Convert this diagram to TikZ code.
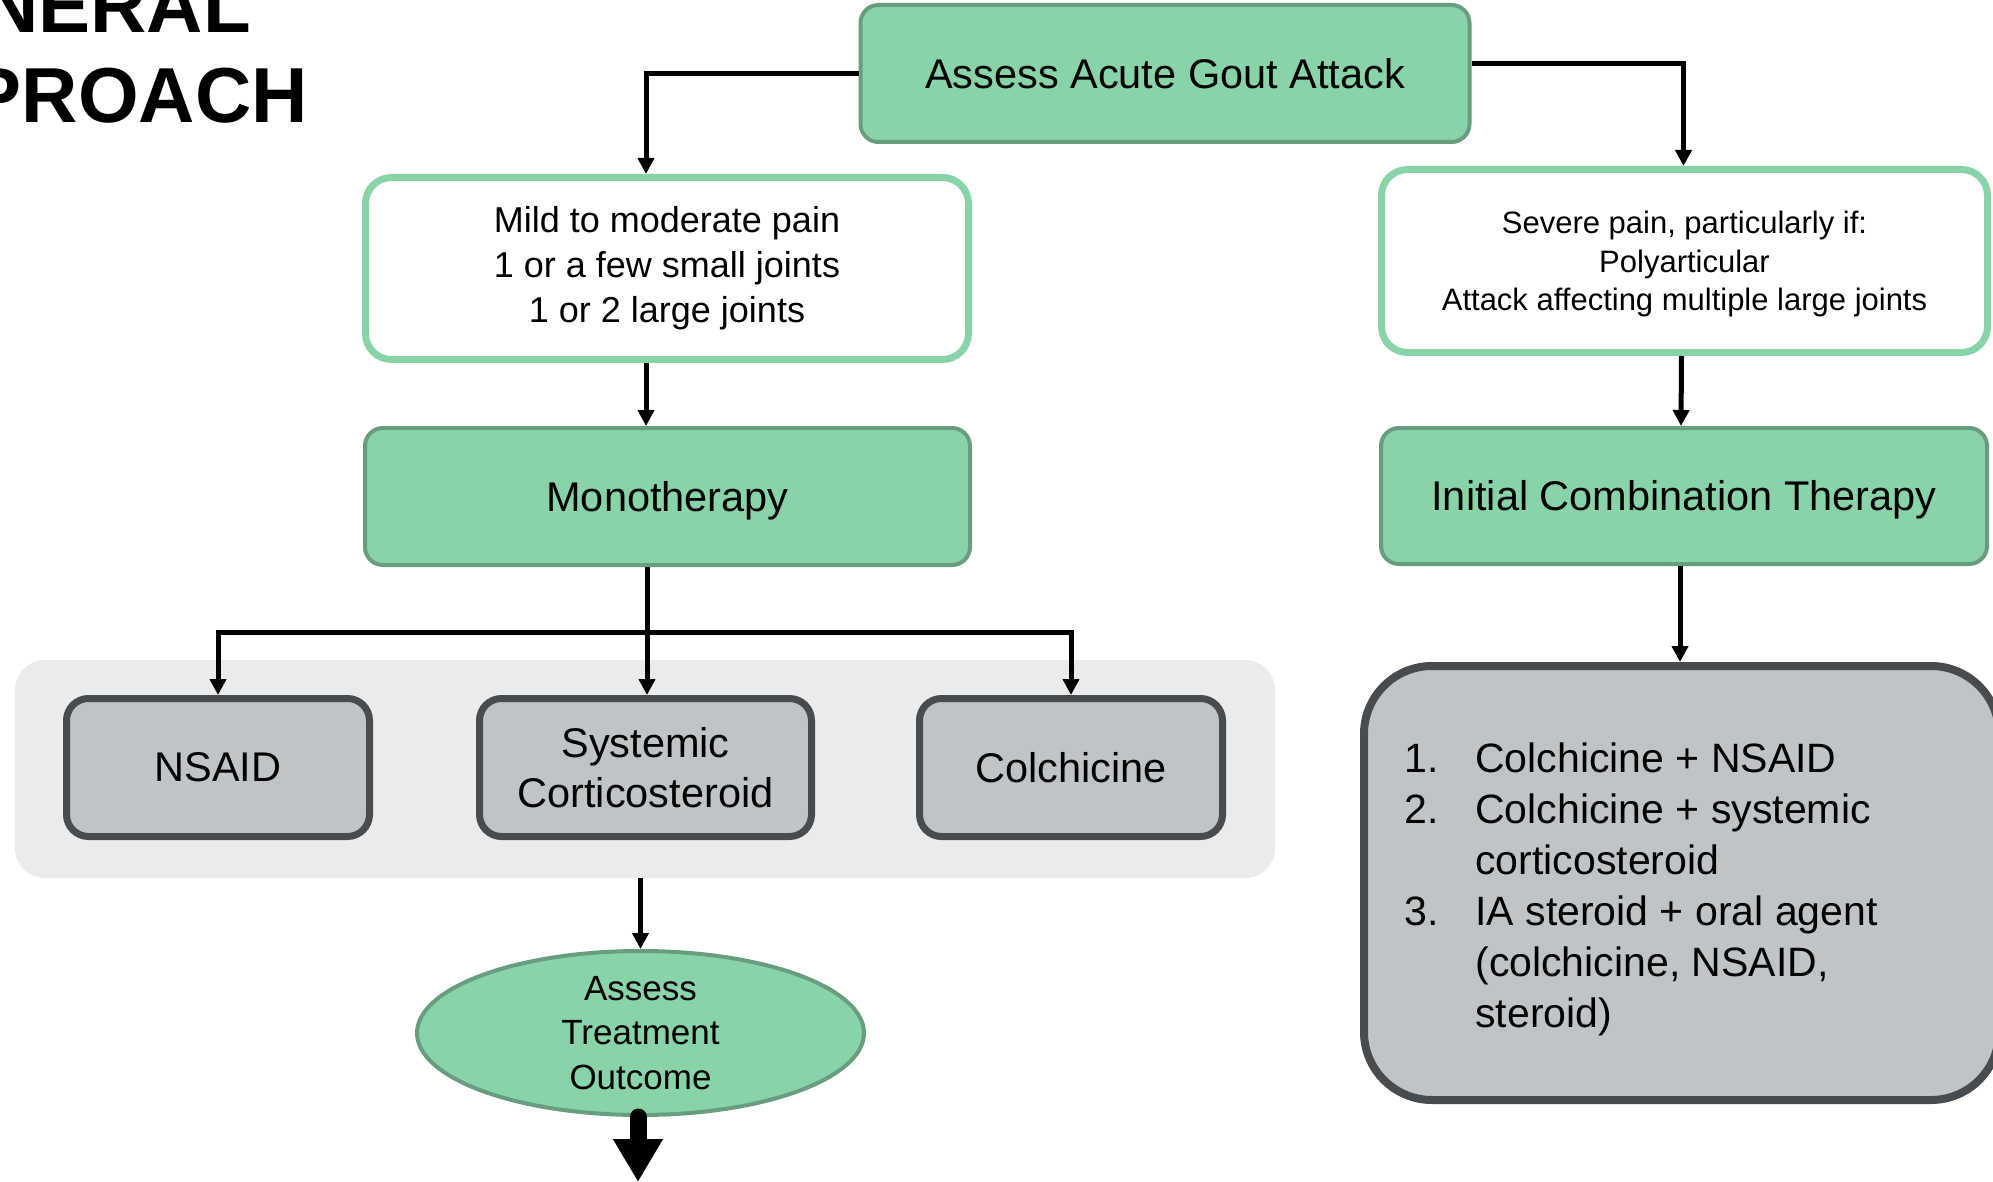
\documentclass[tikz,border=0pt]{standalone}
\usepackage{fontspec}
\setmainfont{Liberation Sans}
\usetikzlibrary{arrows.meta,shapes.geometric}

\definecolor{mint}{HTML}{88D4A8}
\definecolor{mintedge}{HTML}{689E7E}
\definecolor{slate}{HTML}{BFC4C7}
\definecolor{slateedge}{HTML}{474C51}
\definecolor{panelgray}{HTML}{EAEBED}

\newcommand\fsz[2]{\fontsize{#1}{#2}\selectfont}

\begin{document}
\begin{tikzpicture}[x=0.5pt,y=-0.5pt,
  greenbox/.style={draw=mintedge, fill=mint, line width=2pt, rounded corners=9pt,
    inner sep=0pt, align=center, font={\fsz{20.75pt}{25pt}},
    text height=14.9pt, text depth=0pt},
  whitebox/.style={draw=mint, fill=white, line width=3.5pt, rounded corners=13pt,
    inner sep=0pt, align=center},
  graybox/.style={draw=slateedge, fill=slate, line width=3.5pt, rounded corners=11pt,
    inner sep=0pt, align=center, font={\fsz{20.75pt}{25pt}},
    minimum height=69pt},
  panelbox/.style={fill=panelgray, rounded corners=15pt, inner sep=0pt},
  ellbox/.style={ellipse, draw=mintedge, fill=mint, line width=2pt, inner sep=0pt,
    align=center, font={\fsz{17.5pt}{22.25pt}}},
  conn/.style={line width=2.5pt, line cap=butt},
  connarrow/.style={conn, -{Triangle[length=8pt,width=8pt]}},
  bigarrow/.style={line width=8.5pt, line cap=round,
    -{Triangle[length=21.5pt,width=23.5pt]}},
  titletext/.style={anchor=base west, inner sep=0pt,
    font={\fsz{39pt}{45pt}\bfseries}}
]
\useasboundingbox (0,0) rectangle (1993,1182);
\fill[white] (0,0) rectangle (1993,1182);

\begin{scope}
\clip (0,0) rectangle (1993,1182);

% heading, running off the left edge
\node[titletext] (head1) at (-131,33) {GENERAL};
\node[titletext] (head2) at (-139,123) {APPROACH};

% first assessment
\node[greenbox, minimum width=304.5pt, minimum height=68.5pt] (top)
  at (1165,73.5) {Assess Acute Gout Attack};

% severity branches
\node[whitebox, minimum width=301.5pt, minimum height=91pt,
  font={\fsz{18pt}{22.5pt}}] (mild) at (667,268.5)
  {Mild to moderate pain\\1 or a few small joints\\1 or 2 large joints};
\node[whitebox, minimum width=303pt, minimum height=91.5pt,
  font={\fsz{15.5pt}{19.25pt}}] (severe) at (1684.5,261)
  {\raisebox{-1.9pt}[\height][\depth]{\begin{tabular}{@{}c@{}}Severe pain, particularly if:\\
   Polyarticular\\Attack affecting multiple large joints\end{tabular}}};

% treatment strategies
\node[greenbox, minimum width=302.5pt, minimum height=68.5pt] (mono)
  at (667.5,496.5) {Monotherapy};
\node[greenbox, minimum width=303pt, minimum height=68pt] (combo)
  at (1684,496) {Initial Combination Therapy};

% monotherapy options on a shaded panel
\node[panelbox, minimum width=630pt, minimum height=109pt] (panel) at (645,769) {};
\node[graybox, minimum width=151.5pt] (nsaid) at (218,767.5) {NSAID};
\node[graybox, minimum width=166pt] (sys) at (645.5,767.5) {Systemic\\Corticosteroid};
\node[graybox, minimum width=151.5pt] (colch) at (1071,767.5) {Colchicine};

% outcome
\node[ellbox, minimum width=223.5pt, minimum height=82pt] (ell)
  at (640.5,1033) {Assess\\Treatment\\Outcome};

% combination options; the box runs past the right edge
\node[draw=slateedge, fill=slate, line width=4pt, rounded corners=34pt,
  minimum width=317.5pt, minimum height=217pt, inner sep=0pt] (listbox)
  at (1681.5,883) {};
\node[anchor=base west, inner sep=0pt, font={\fsz{20.5pt}{25.5pt}}] (list)
  at (1404,772) {%
  \begin{tabular}[t]{@{}p{35.5pt}@{}l@{}}
  1. & Colchicine + NSAID\\
  2. & Colchicine + systemic\\
     & corticosteroid\\
  3. & IA steroid + oral agent\\
     & (colchicine, NSAID,\\
     & steroid)
  \end{tabular}};

% connectors
\draw[connarrow] (top.west) -| ([xshift=-10.5pt]mild.north);
\draw[connarrow] ([yshift=5pt]top.east) -| ([xshift=-0.5pt]severe.north);
\draw[connarrow] ([xshift=-10.5pt]mild.south) -- ([xshift=-10.5pt]mild.south |- mono.north);
\draw[connarrow] ([xshift=-1.5pt]severe.south) -- ([xshift=-1.5pt]combo.north);

\coordinate (split) at (647,632);
\draw[connarrow] (split |- mono.south) -- (split |- sys.north);
\draw[connarrow] (split) -| (nsaid.north);
\draw[connarrow] (split) -| (colch.north);

\draw[connarrow] (ell.north |- panel.south) -- (ell.north);
\draw[connarrow] ([xshift=-2pt]combo.south) -- ([xshift=-2pt]combo.south |- listbox.north);

\coordinate (outEnd) at (638,1182);
\draw[bigarrow] (ell.south -| outEnd) -- (outEnd);
\end{scope}
\end{tikzpicture}
\end{document}
